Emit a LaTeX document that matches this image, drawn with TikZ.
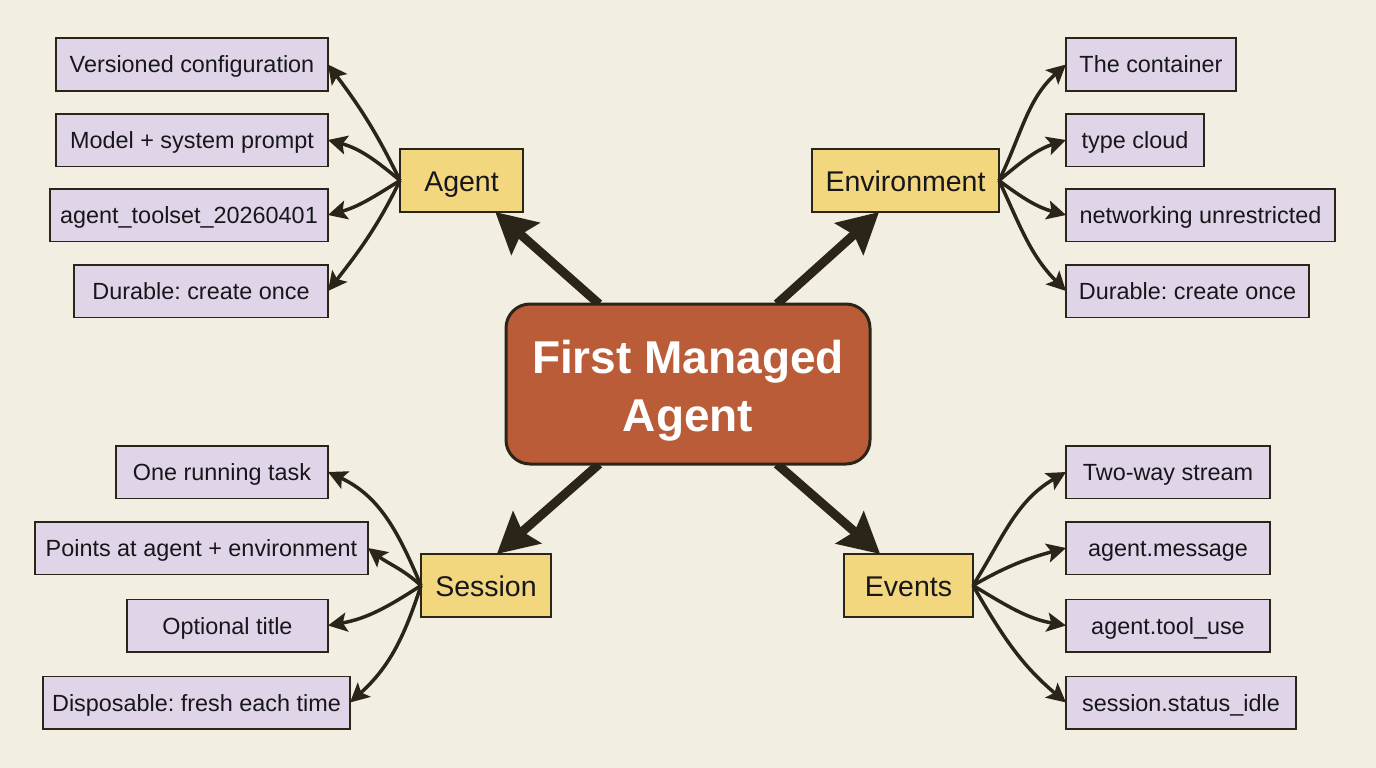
\documentclass[tikz,border=0pt]{standalone}
\usepackage{fontspec}
\setmainfont{Liberation Sans}
\usetikzlibrary{arrows.meta,backgrounds}
\definecolor{paper}{HTML}{F2EEE1}
\definecolor{leaffill}{HTML}{E0D5E8}
\definecolor{topicfill}{HTML}{F2D77F}
\definecolor{hubfill}{HTML}{BA5C38}
\definecolor{inkline}{HTML}{2A2419}
\definecolor{inktext}{HTML}{17161A}
\tikzset{
    leafbox/.style={draw=inkline, fill=leaffill, text=inktext, line width=1.5pt, outer sep=0pt, inner sep=0pt, minimum height=52.5pt, text height=17pt, text depth=0pt, font=\fontsize{23.4}{28}\selectfont\frenchspacing},
    topicbox/.style={draw=inkline, fill=topicfill, text=inktext, line width=1.5pt, outer sep=0pt, inner sep=0pt, minimum height=63pt, text height=21pt, text depth=0pt, font=\fontsize{28.5}{34}\selectfont},
    hubbox/.style={draw=inkline, fill=hubfill, line width=3pt, rounded corners=24pt, outer sep=0pt, inner sep=0pt, minimum width=364pt, minimum height=160pt, text=white, align=center, text height=94pt, text depth=0pt, font=\fontsize{46}{58}\selectfont\bfseries},
    trunk/.style={draw=inkline, line width=9pt, -{Stealth[length=40pt,width=42pt,inset=6pt]}},
    twig/.style={draw=inkline, line width=3.5pt, -{Stealth[length=19pt,width=19pt,inset=4pt]}}
}
\begin{document}
\begin{tikzpicture}[x=1pt,y=-1pt]
            \useasboundingbox (0,0) rectangle (1376,768);

            \node (hub) at (688,384) [hubbox] {First Managed\\Agent};

            \node (agent) at (461.5,180.5) [topicbox, minimum width=123pt] {Agent};
            \node (environment) at (905.5,180.5) [topicbox, minimum width=187pt] {Environment};
            \node (session) at (486,585.5) [topicbox, minimum width=130pt] {Session};
            \node (events) at (908.5,585.5) [topicbox, minimum width=129pt] {Events};

            \node (versioned) at (192,64.5) [leafbox, minimum width=272pt] {Versioned configuration};
            \node (model) at (192,140) [leafbox, minimum width=272pt] {Model + system prompt};
            \node (toolset) at (189,215) [leafbox, minimum width=278pt] {agent\_toolset\_20260401};
            \node (durableagent) at (201,291) [leafbox, minimum width=254pt] {Durable: create once};

            \node (container) at (1151,64.5) [leafbox, minimum width=170pt] {The container};
            \node (cloud) at (1135,140) [leafbox, minimum width=138pt] {type cloud};
            \node (networking) at (1200.5,215) [leafbox, minimum width=269pt] {networking unrestricted};
            \node (durableenv) at (1187.5,291) [leafbox, minimum width=243pt] {Durable: create once};

            \node (running) at (222,472) [leafbox, minimum width=212pt] {One running task};
            \node (points) at (201.5,548) [leafbox, minimum width=333pt] {Points at agent + environment};
            \node (title) at (227.5,625.5) [leafbox, minimum width=201pt] {Optional title};
            \node (disposable) at (196.5,702.5) [leafbox, minimum width=307pt] {Disposable: fresh each time};

            \node (stream) at (1168,472) [leafbox, minimum width=204pt] {Two-way stream};
            \node (message) at (1168,548) [leafbox, minimum width=204pt] {agent.message};
            \node (tooluse) at (1168,625.5) [leafbox, minimum width=204pt] {agent.tool\_use};
            \node (idle) at (1181,702.5) [leafbox, minimum width=230pt] {session.status\_idle};

            \begin{scope}[on background layer]
                \fill[paper] (0,0) rectangle (1376,768);
                \draw[trunk] (hub.138) -- (agent.317);
                \draw[trunk] (hub.42) -- (environment.230);
                \draw[trunk] (hub.222) -- (session.71);
                \draw[trunk] (hub.318) -- (events.132);
            \end{scope}

            \draw[twig] (agent.west) to[out=116,in=-53] (versioned.east);
            \draw[twig] (agent.west) to[out=140,in=-15] (model.east);
            \draw[twig] (agent.west) to[out=212,in=15] (toolset.east);
            \draw[twig] (agent.west) to[out=244,in=52] (durableagent.east);

            \draw[twig] (environment.east) to[out=64,in=222] (container.west);
            \draw[twig] (environment.east) to[out=40,in=198] (cloud.west);
            \draw[twig] (environment.east) to[out=-37,in=165] (networking.west);
            \draw[twig] (environment.east) to[out=-65,in=135] (durableenv.west);

            \draw[twig] (session.west) to[out=113,in=-25] (running.east);
            \draw[twig] (session.west) to[out=138,in=-38] (points.east);
            \draw[twig] (session.west) to[out=213,in=10] (title.east);
            \draw[twig] (session.west) to[out=252,in=42] (disposable.east);

            \draw[twig] (events.east) to[out=58,in=210] (stream.west);
            \draw[twig] (events.east) to[out=30,in=195] (message.west);
            \draw[twig] (events.east) to[out=-31,in=170] (tooluse.west);
            \draw[twig] (events.east) to[out=-60,in=140] (idle.west);
        \end{tikzpicture}
\end{document}
